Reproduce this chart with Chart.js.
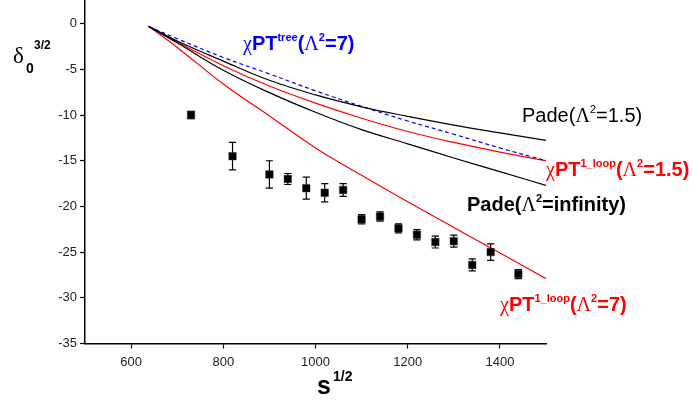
<!DOCTYPE html>
<html lang="en">

<head>
    <meta charset="UTF-8">
    <script src="https://cdn.jsdelivr.net/npm/chart.js@4.4.3/dist/chart.umd.min.js"></script>
    <style>
        body {
            margin: 0;
            background: #fff;
        }

        #wrap {
            position: relative;
            width: 693px;
            height: 402px;
            overflow: hidden;
        }

        #c {
            display: block;
            margin-top: -5px;
        }

        .lbl {
            position: absolute;
            font-family: "Liberation Sans", Arial, sans-serif;
            font-size: 20px;
            line-height: 20px;
            white-space: nowrap;
        }

        .b {
            font-weight: bold;
        }

        .greek {
            font-family: "Liberation Serif", "DejaVu Serif", serif;
            font-weight: normal;
        }

        .sup {
            font-size: 11px;
            font-weight: bold;
            position: relative;
            top: -9px;
        }
    </style>
</head>

<body>
    <div id="wrap">
        <canvas id="c" width="693" height="407"></canvas>

        <!-- axis titles -->
        <div class="lbl" style="left:13px; top:44px; font-size:23px; line-height:23px;"><span class="greek">δ</span></div>
        <div class="lbl b" style="left:26px; top:61px; font-size:14px; line-height:14px;">0</div>
        <div class="lbl b" style="left:34px; top:39px; font-size:12px; line-height:12px;">3/2</div>
        <div class="lbl b" style="left:317px; top:373px; font-size:25px; line-height:25px;">s</div>
        <div class="lbl b" style="left:333px; top:369px; font-size:14px; line-height:14px;">1/2</div>

        <!-- curve labels -->
        <div class="lbl b" style="left:243px; top:33px; color:#0000ff;"><span class="greek">χ</span>PT<span class="sup">tree</span>(<span class="greek">Λ</span><span class="sup">2</span>=7)</div>
        <div class="lbl" style="left:522px; top:105px; color:#000;">Pade(<span class="greek">Λ</span><span class="sup" style="font-weight:normal">2</span>=1.5)</div>
        <div class="lbl b" style="left:546px; top:159px; color:#ff0000;"><span class="greek">χ</span>PT<span class="sup">1_loop</span>(<span class="greek">Λ</span><span class="sup">2</span>=1.5)</div>
        <div class="lbl b" style="left:467px; top:194px; color:#000;">Pade(<span class="greek">Λ</span><span class="sup">2</span>=infinity)</div>
        <div class="lbl b" style="left:500px; top:294px; color:#ff0000;"><span class="greek">χ</span>PT<span class="sup">1_loop</span>(<span class="greek">Λ</span><span class="sup">2</span>=7)</div>
    </div>

    <script>
        // theory curves, sampled at these s^1/2 values
        const curve_s = [638, 700, 800, 900, 1000, 1100, 1200, 1300, 1400, 1500];
        const pade_15 = [-0.3, -1.9, -4.1, -6.2, -7.8, -9.1, -10.15, -11.1, -11.95, -12.77];
        const pade_inf = [-0.3, -2.1, -5.1, -7.55, -9.7, -11.6, -13.15, -14.7, -16.2, -17.7];
        const tree_7 = [-0.3, -1.65, -3.7, -5.5, -7.35, -9.05, -10.65, -12.1, -13.6, -15.0];
        const loop_15 = [-0.3, -2.0, -4.6, -6.83, -8.7, -10.35, -11.8, -13.0, -14.05, -15.0];
        const loop_7 = [-0.3, -2.6, -6.6, -10.1, -13.6, -16.6, -19.5, -22.3, -25.1, -27.9];

        // measured phase shifts
        const data_s = [730, 820, 900, 940, 980, 1020, 1060, 1100, 1140, 1180, 1220, 1260, 1300, 1340, 1380, 1440];
        const data_delta = [-10.0, -14.5, -16.5, -17.0, -18.0, -18.5, -18.2, -21.4, -21.1, -22.4, -23.1, -23.9, -23.8, -26.4, -25.0, -27.4];
        const data_err = [0.4, 1.5, 1.5, 0.6, 1.2, 1.0, 0.7, 0.5, 0.5, 0.5, 0.55, 0.65, 0.65, 0.65, 0.9, 0.5];

        const to_xy = ys => curve_s.map((s, i) => ({ x: s, y: ys[i] }));

        // error bars: lo, hi, gap for each point
        let err_points = [];
        data_s.forEach((s, i) => {
            err_points.push({ x: s, y: data_delta[i] - data_err[i] });
            err_points.push({ x: s, y: data_delta[i] + data_err[i] });
            err_points.push({ x: s, y: null });
        });

        function curve(label, ys, color, dash) {
            return {
                type: "line",
                label: label,
                data: to_xy(ys),
                borderColor: color,
                borderWidth: 1.2,
                borderDash: dash || [],
                pointRadius: 0,
                tension: 0.4,
                fill: false,
                order: 3
            };
        }

        new Chart(document.getElementById("c"), {
            type: "scatter",
            data: {
                datasets: [
                    {
                        type: "scatter",
                        label: "data",
                        data: data_s.map((s, i) => ({ x: s, y: data_delta[i] })),
                        pointStyle: "rect",
                        pointRadius: 5.3,
                        backgroundColor: "#000",
                        borderColor: "#333",
                        borderWidth: 0.5,
                        order: 1
                    },
                    {
                        type: "line",
                        label: "errors",
                        data: err_points,
                        borderColor: "#000",
                        borderWidth: 1.2,
                        spanGaps: false,
                        pointStyle: "line",
                        pointRadius: 3.6,
                        pointBorderColor: "#000",
                        pointBorderWidth: 1.2,
                        order: 2
                    },
                    curve("Pade(1.5)", pade_15, "#000"),
                    curve("Pade(inf)", pade_inf, "#000"),
                    curve("chiPT tree(7)", tree_7, "#0000ff", [4, 3]),
                    curve("chiPT 1loop(1.5)", loop_15, "#ff0000"),
                    curve("chiPT 1loop(7)", loop_7, "#ff0000")
                ]
            },
            options: {
                responsive: false,
                animation: false,
                devicePixelRatio: 1,
                layout: {
                    padding: { left: 0, right: 147, top: 0, bottom: 0 }
                },
                plugins: {
                    legend: { display: false },
                    tooltip: { enabled: false }
                },
                scales: {
                    x: {
                        type: "linear",
                        min: 500,
                        max: 1500,
                        afterFit: s => { s.height = 58.5; },
                        ticks: {
                            stepSize: 100,
                            autoSkip: false,
                            maxRotation: 0,
                            padding: 6,
                            color: "#222",
                            font: { family: "Liberation Sans", size: 13 },
                            callback: v => (v % 200 === 0 ? String(v) : null)
                        },
                        grid: {
                            drawOnChartArea: false,
                            tickLength: 5,
                            tickColor: "#000",
                            tickWidth: 1.2
                        },
                        border: { color: "#000", width: 1.5 }
                    },
                    y: {
                        type: "linear",
                        min: -35,
                        max: 2.5,
                        afterFit: s => {
                            s.width = 85;
                            s.paddingTop = 0;
                            s.paddingBottom = 0;
                        },
                        ticks: {
                            stepSize: 2.5,
                            autoSkip: false,
                            padding: 3,
                            color: "#222",
                            font: { family: "Liberation Sans", size: 13 },
                            callback: v => (v % 5 === 0 ? String(v) : null)
                        },
                        grid: {
                            drawOnChartArea: false,
                            tickLength: 5,
                            tickColor: "#000",
                            tickWidth: 1.2
                        },
                        border: { color: "#000", width: 1.5 }
                    }
                }
            }
        });
    </script>
</body>

</html>
